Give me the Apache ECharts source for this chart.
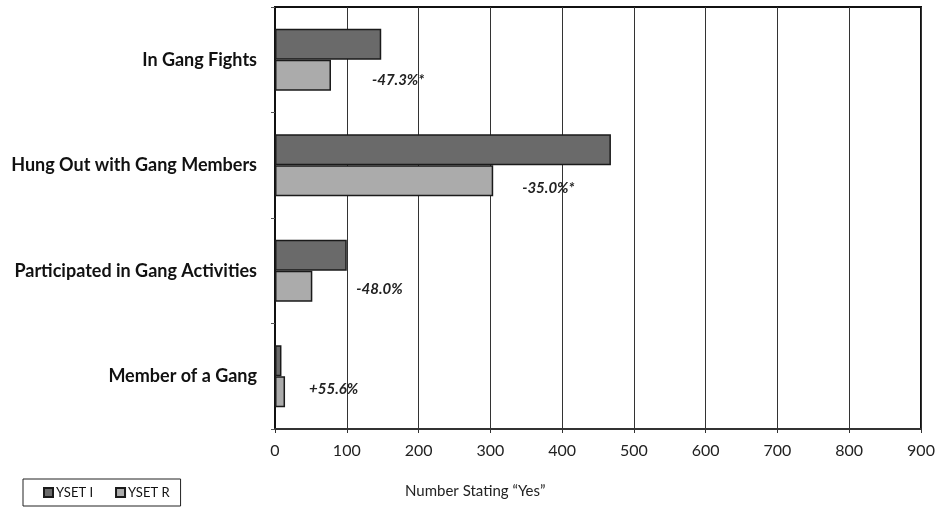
<!DOCTYPE html>
<html><head><meta charset="utf-8">
<script src="https://cdn.jsdelivr.net/npm/echarts@6/dist/echarts.min.js"></script>
<style>html,body{margin:0;padding:0;background:#fff}#c{width:940px;height:513px}</style>
</head><body><div id="c"></div>
<script>
const categories = ['In Gang Fights', 'Hung Out with Gang Members', 'Participated in Gang Activities', 'Member of a Gang'];
const ysetI = [148, 468, 100, 9];
const ysetR = [78, 304, 52, 14];
const changeLabels = ['-47.3%*', '-35.0%*', '-48.0%', '+55.6%'];
const xTicks = [0, 100, 200, 300, 400, 500, 600, 700, 800, 900];
const seriesNames = ['YSET I', 'YSET R'];

const FONT = 'Lato, "Open Sans", sans-serif';
const labelShift = [[23, 5], [11, 7], [26, 3], [6, -3]];
const chart = echarts.init(document.getElementById('c'));
chart.setOption({
  animation: false,
  backgroundColor: '#fff',
  grid: { left: 275, right: 19, top: 7, bottom: 84, show: true, borderColor: '#111', borderWidth: 2, containLabel: false },
  legend: {
    data: seriesNames, left: 23, top: 479, orient: 'horizontal', icon: 'rect',
    itemWidth: 9, itemHeight: 9, itemGap: 22,
    borderColor: '#222', borderWidth: 1, padding: [7, 11, 7, 20],
    textStyle: { fontFamily: FONT, fontSize: 13, color: '#111', padding: [0, 0, 0, -2] }
  },
  xAxis: {
    type: 'value', min: xTicks[0], max: xTicks[xTicks.length - 1], interval: 100,
    axisLine: { show: true, lineStyle: { color: '#333', width: 2 } },
    axisTick: { show: true, length: 4, lineStyle: { color: '#333' } },
    axisLabel: { fontFamily: FONT, fontSize: 16, color: '#222', margin: 14 },
    splitLine: { show: true, lineStyle: { color: '#333', width: 1 } }
  },
  yAxis: {
    type: 'category', data: categories, inverse: true,
    axisLine: { show: true, lineStyle: { color: '#111', width: 2 } },
    axisTick: { show: true, length: 4, lineStyle: { color: '#555' } },
    axisLabel: { fontFamily: FONT, fontSize: 18, fontWeight: 'bold', color: '#111', margin: 18 }
  },
  graphic: [{
    type: 'text', left: 405, top: 484,
    style: { text: 'Number Stating \u201CYes\u201D', font: '15px ' + FONT, fill: '#222' }
  }],
  series: [
    {
      name: seriesNames[0], type: 'bar', data: ysetI, barWidth: 31, barGap: '0%',
      itemStyle: { color: '#6a6a6a', borderColor: '#1a1a1a', borderWidth: 1.5 }
    },
    {
      name: seriesNames[1], type: 'bar', barWidth: 31,
      data: ysetR.map((v, i) => ({ value: v, label: { offset: labelShift[i] } })),
      itemStyle: { color: '#ababab', borderColor: '#1a1a1a', borderWidth: 1.5 },
      label: {
        show: true, position: 'right', distance: 18,
        formatter: p => changeLabels[p.dataIndex],
        fontFamily: FONT, fontSize: 15, fontStyle: 'italic', fontWeight: 'bold', color: '#222'
      }
    }
  ]
});
</script></body></html>
